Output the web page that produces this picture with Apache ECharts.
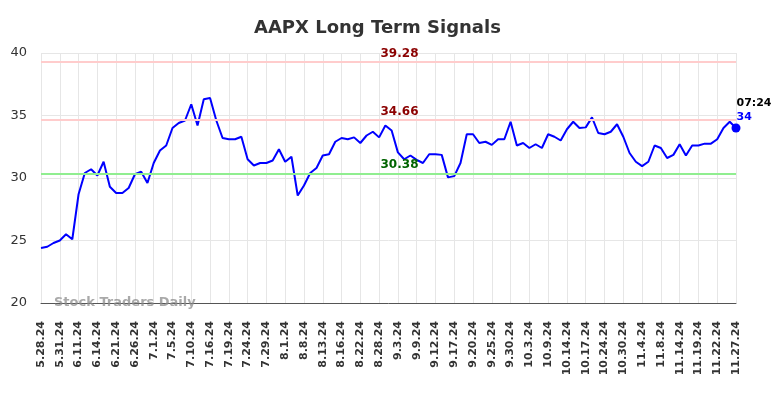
<!DOCTYPE html>
<html>
<head>
    <meta charset="utf-8">
    <title>AAPX Long Term Signals</title>
    <script src="https://cdn.jsdelivr.net/npm/echarts@6/dist/echarts.min.js"></script>
    <style type="text/css">
        body{
            margin: 0;
            background-color: #fff;
        }
        #chart{
            width: 784px;
            height: 398px;
        }
    </style>
</head>
<body>
<div id="chart"></div>

<script>
    // one date label every 3 points
    var dateLabels = ['5.28.24','5.31.24','6.11.24','6.14.24','6.21.24','6.26.24','7.1.24','7.5.24',
        '7.10.24','7.16.24','7.19.24','7.24.24','7.29.24','8.1.24','8.8.24','8.13.24','8.16.24',
        '8.22.24','8.28.24','9.3.24','9.9.24','9.12.24','9.17.24','9.20.24','9.25.24','9.30.24',
        '10.3.24','10.9.24','10.14.24','10.17.24','10.24.24','10.30.24','11.4.24','11.8.24',
        '11.14.24','11.19.24','11.22.24','11.27.24'];
    var labelStep = 3;

    var prices = [
        24.4, 24.5, 24.8, 25.0, 25.5, 25.1, 28.7, 30.4, 30.7, 30.2,
        31.3, 29.3, 28.8, 28.8, 29.2, 30.3, 30.5, 29.6, 31.2, 32.2,
        32.6, 34.0, 34.4, 34.6, 35.9, 34.2, 36.3, 36.4, 34.6, 33.2,
        33.1, 33.1, 33.3, 31.5, 31.0, 31.2, 31.2, 31.4, 32.3, 31.3,
        31.7, 28.6, 29.4, 30.4, 30.8, 31.8, 31.9, 32.9, 33.2, 33.1,
        33.25, 32.8, 33.4, 33.7, 33.25, 34.2, 33.8, 32.05, 31.5, 31.8,
        31.45, 31.2, 31.9, 31.9, 31.85, 30.05, 30.15, 31.2, 33.5, 33.5,
        32.8, 32.9, 32.65, 33.1, 33.1, 34.5, 32.6, 32.8, 32.4, 32.7,
        32.4, 33.5, 33.3, 33.0, 33.9, 34.5, 34.0, 34.05, 34.85, 33.6,
        33.5, 33.7, 34.3, 33.3, 32.0, 31.3, 30.95, 31.3, 32.6, 32.4,
        31.6, 31.85, 32.7, 31.8, 32.6, 32.6, 32.75, 32.75, 33.1, 34.0,
        34.5, 34.0
    ];

    var resistanceLevels = [39.28, 34.66];
    var supportLevels = [30.38];
    var lastTime = '07:24';
    var lastLabel = '34';

    var yTicks = {min: 20, max: 40, step: 5};

    var lineData = prices.map(function (v, i) { return [i, v]; });
    var lastIdx = prices.length - 1;

    function levelLine(val, lineColor, textColor) {
        return {
            yAxis: val,
            lineStyle: {color: lineColor, width: 2, type: 'solid'},
            label: {
                show: true,
                position: 'insideMiddleTop',
                formatter: val.toFixed(2),
                color: textColor,
                fontWeight: 'bold',
                fontSize: 12,
                fontFamily: 'DejaVu Sans',
                offset: [11, 0],
                distance: 2
            }
        };
    }

    var marks = [];
    resistanceLevels.forEach(function (v) { marks.push(levelLine(v, '#ffcccc', '#8b0000')); });
    supportLevels.forEach(function (v) { marks.push(levelLine(v, '#90ee90', '#006400')); });

    var myChart = echarts.init(document.getElementById('chart'));

    var option = {
        animation: false,
        backgroundColor: '#fff',
        title: {
            text: 'AAPX Long Term Signals',
            left: 249,
            top: 14,
            textStyle: {
                color: '#333',
                fontSize: 18,
                fontWeight: 'bold',
                fontFamily: 'DejaVu Sans'
            }
        },
        grid: {left: 41, right: 48, top: 53, bottom: 95},
        xAxis: {
            type: 'value',
            min: 0,
            max: lastIdx,
            interval: labelStep,
            axisLine: {show: true, lineStyle: {color: '#555', width: 1}},
            axisTick: {show: false},
            splitLine: {show: true, lineStyle: {color: '#e6e6e6', width: 1}},
            axisLabel: {
                rotate: 90,
                margin: 18,
                color: '#333',
                fontSize: 11,
                fontWeight: 'bold',
                fontFamily: 'DejaVu Sans',
                showMinLabel: true,
                showMaxLabel: true,
                formatter: function (v) {
                    return dateLabels[Math.round(v / labelStep)] || '';
                }
            }
        },
        yAxis: {
            type: 'value',
            min: yTicks.min,
            max: yTicks.max,
            interval: yTicks.step,
            axisLine: {show: false},
            axisTick: {show: false},
            splitLine: {lineStyle: {color: '#e6e6e6', width: 1}},
            axisLabel: {
                color: '#333',
                fontSize: 13,
                margin: 14,
                fontFamily: 'DejaVu Sans'
            }
        },
        graphic: [
            {
                type: 'text',
                left: 54,
                top: 296,
                z: 10,
                style: {
                    text: 'Stock Traders Daily',
                    fill: 'rgba(140,140,140,0.75)',
                    font: 'bold 13px "DejaVu Sans"'
                }
            }
        ],
        series: [
            {
                type: 'line',
                data: lineData,
                showSymbol: false,
                symbol: 'none',
                lineStyle: {color: '#0000ff', width: 2},
                z: 3,
                markLine: {
                    silent: true,
                    symbol: ['none', 'none'],
                    data: marks
                }
            },
            {
                type: 'scatter',
                data: [lineData[lastIdx]],
                symbol: 'circle',
                symbolSize: 9,
                itemStyle: {color: '#0000ff', opacity: 1},
                z: 4,
                label: {
                    show: true,
                    position: [5, -27],
                    align: 'left',
                    verticalAlign: 'top',
                    formatter: '{t|' + lastTime + '}\n{v|' + lastLabel + '}',
                    rich: {
                        t: {color: '#000', fontWeight: 'bold', fontSize: 11, fontFamily: 'DejaVu Sans', lineHeight: 14},
                        v: {color: '#0000ff', fontWeight: 'bold', fontSize: 11, fontFamily: 'DejaVu Sans', lineHeight: 14}
                    }
                }
            }
        ]
    };
    option && myChart.setOption(option);
</script>
</body>
</html>
